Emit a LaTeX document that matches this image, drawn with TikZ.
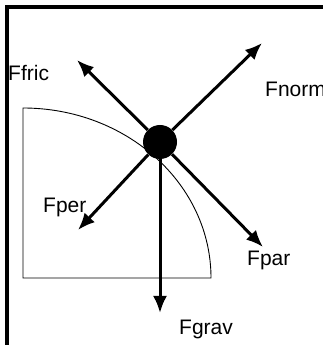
\documentclass[tikz,border=0pt]{standalone}
\usepackage{fontspec}
\setmainfont{Liberation Sans}
\usetikzlibrary{arrows.meta}

\begin{document}
\begin{tikzpicture}[x=1pt,y=1pt,>={Latex[length=17pt,width=14pt]},
  force/.style={->,line width=3pt},
  lbl/.style={anchor=base west,inner sep=0pt,font=\fontsize{21}{24}\selectfont}]
\useasboundingbox (0,0) rectangle (323,345);
% frame
\draw[line width=3.5pt] (7,0) -- (7,338) -- (323,338);
% hill
\draw[line width=0.9pt] (211,67) arc[start angle=0,end angle=90,x radius=188,y radius=170] -- (23,67) -- cycle;
% mass and forces
\node[circle,fill=black,minimum size=34pt,inner sep=0pt] (mass) at (160,203) {};
\coordinate (norm) at (262,302);
\coordinate (fric) at (77,285);
\coordinate (per) at (78,115);
\coordinate (par) at (263,98);
\coordinate (grav) at (160,32);
\foreach \f in {norm,fric,per,par,grav}
  \draw[force] (mass) -- (\f);
\node[lbl] (lfric) at (8,264) {Ffric};
\node[lbl] (lnorm) at (265,248) {Fnorm};
\node[lbl] (lper) at (43,132) {Fper};
\node[lbl] (lpar) at (247,79) {Fpar};
\node[lbl] (lgrav) at (179,10) {Fgrav};
\end{tikzpicture}
\end{document}
